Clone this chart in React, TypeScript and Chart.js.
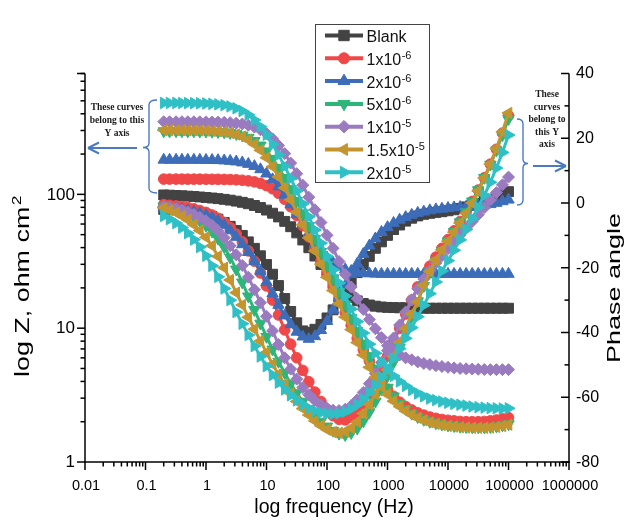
import React, { useEffect, useRef } from "react";
import { Chart, registerables } from "chart.js";

Chart.register(...registerables);

// Frequencies (Hz), 10 points per decade from 0.2 Hz to 100 kHz
const freq = [0.2, 0.25, 0.32, 0.4, 0.5, 0.63, 0.79,
  1, 1.26, 1.58, 2, 2.51, 3.16, 3.98, 5.01, 6.31, 7.94,
  10, 12.6, 15.8, 20, 25.1, 31.6, 39.8, 50.1, 63.1, 79.4,
  100, 126, 158, 200, 251, 316, 398, 501, 631, 794,
  1000, 1259, 1585, 1995, 2512, 3162, 3981, 5012, 6310, 7943,
  10000, 12589, 15849, 19953, 25119, 31623, 39811, 50119, 63096, 79433,
  100000];

// |Z| (ohm cm2), left axis
const zBlank = [99.0, 98.6, 98.1, 97.6, 97.0, 96.4, 95.6,
  94.8, 93.9, 92.9, 91.8, 90.5, 89.0, 87.2, 85.1, 82.6, 79.7,
  76.3, 72.3, 67.8, 62.8, 57.3, 51.5, 45.6, 39.9, 34.6, 29.9,
  26.0, 22.8, 20.3, 18.4, 17.0, 16.0, 15.3, 14.9, 14.6, 14.4,
  14.3, 14.25, 14.2, 14.2, 14.15, 14.15, 14.1, 14.1, 14.1, 14.1,
  14.1, 14.1, 14.1, 14.1, 14.1, 14.1, 14.1, 14.1, 14.1, 14.1,
  14.1];
const z1e6 = [130.0, 130.0, 130.0, 130.0, 129.9, 129.9, 129.9,
  129.8, 129.7, 129.6, 129.3, 129.0, 128.4, 127.5, 126.1, 124.0, 120.8,
  116.2, 110.0, 101.8, 91.9, 80.8, 69.4, 58.3, 48.1, 39.2, 31.7,
  25.5, 20.4, 16.4, 13.1, 10.5, 8.4, 6.9, 5.7, 4.7, 4.0,
  3.5, 3.1, 2.8, 2.6, 2.45, 2.33, 2.24, 2.17, 2.12, 2.08,
  2.05, 2.03, 2.01, 2.0, 2.0, 2.0, 2.01, 2.03, 2.06, 2.1,
  2.15];
const z2e6 = [181.0, 181.0, 181.0, 180.9, 180.9, 180.8, 180.7,
  180.4, 180.2, 179.7, 178.8, 177.5, 175.6, 172.7, 168.5, 162.2, 153.7,
  142.6, 129.2, 114.3, 98.9, 84.1, 70.8, 59.6, 50.4, 43.1, 37.6,
  33.6, 30.7, 28.8, 27.5, 26.7, 26.1, 25.8, 25.6, 25.5, 25.4,
  25.4, 25.4, 25.4, 25.4, 25.4, 25.4, 25.4, 25.4, 25.4, 25.4,
  25.4, 25.4, 25.4, 25.4, 25.4, 25.4, 25.4, 25.4, 25.4, 25.4,
  25.4];
const z5e6 = [296.9, 296.8, 296.7, 296.6, 296.4, 296.3, 295.9,
  295.3, 294.5, 293.2, 291.1, 288.0, 283.0, 275.8, 265.4, 251.1, 232.4,
  209.9, 184.7, 158.4, 133.1, 109.8, 89.5, 72.3, 58.1, 46.5, 37.2,
  29.6, 23.6, 18.7, 15.0, 11.9, 9.55, 7.7, 6.2, 5.0, 4.2,
  3.6, 3.1, 2.75, 2.5, 2.3, 2.17, 2.07, 2.0, 1.95, 1.91,
  1.88, 1.86, 1.84, 1.83, 1.82, 1.82, 1.82, 1.83, 1.85, 1.88,
  1.92];
const z1e5 = [348.9, 348.9, 348.9, 348.8, 348.7, 348.5, 348.3,
  348.0, 347.5, 346.6, 345.3, 343.3, 340.2, 335.5, 328.3, 318.0, 303.5,
  284.1, 260.0, 231.9, 201.6, 171.3, 142.8, 117.2, 95.2, 76.7, 61.6,
  49.4, 39.5, 31.5, 25.2, 20.3, 16.6, 13.8, 11.6, 9.9, 8.5,
  7.4, 6.8, 6.3, 6.0, 5.8, 5.6, 5.45, 5.35, 5.25, 5.17,
  5.1, 5.05, 5.0, 4.97, 4.95, 4.93, 4.91, 4.9, 4.9, 4.9,
  4.9];
const z15e5 = [301.8, 301.7, 301.6, 301.5, 301.3, 301.0, 300.4,
  299.5, 298.2, 296.1, 292.8, 287.8, 280.5, 269.9, 255.4, 236.4, 213.5,
  187.8, 161.1, 135.3, 111.7, 91.1, 73.6, 59.1, 47.3, 37.8, 30.1,
  24.0, 19.1, 15.2, 12.1, 9.75, 7.8, 6.3, 5.1, 4.3, 3.65,
  3.2, 2.85, 2.6, 2.4, 2.25, 2.14, 2.05, 1.98, 1.93, 1.89,
  1.86, 1.84, 1.82, 1.81, 1.8, 1.8, 1.8, 1.81, 1.83, 1.86,
  1.9];
const z2e5 = [482.2, 482.1, 482.0, 481.7, 481.2, 480.5, 479.4,
  477.6, 474.8, 470.5, 464.0, 454.2, 439.8, 419.6, 392.9, 359.5, 320.6,
  278.8, 236.8, 197.3, 162.0, 131.5, 106.0, 85.0, 68.0, 54.2, 43.2,
  34.4, 27.3, 21.8, 17.4, 13.9, 11.2, 9.2, 7.6, 6.5, 5.6,
  4.9, 4.4, 4.0, 3.7, 3.45, 3.25, 3.1, 2.98, 2.9, 2.83,
  2.77, 2.72, 2.68, 2.64, 2.6, 2.57, 2.55, 2.53, 2.52, 2.51,
  2.52];

// Phase angle (degrees), right axis
const phBlank = [-2.0, -2.0, -2.1, -2.2, -2.4, -2.6, -3.0,
  -3.5, -4.2, -5.0, -6.0, -7.2, -8.5, -10.0, -12.0, -14.0, -16.3,
  -19.0, -22.0, -25.5, -29.5, -33.5, -37.0, -39.5, -40.0, -39.0, -37.5,
  -35.5, -33.0, -30.0, -27.0, -24.5, -21.5, -19.0, -16.5, -14.0, -12.0,
  -10.0, -8.2, -6.8, -5.6, -4.7, -4.0, -3.5, -3.2, -2.9, -2.7,
  -2.4, -2.1, -1.7, -1.2, -0.7, -0.1, 0.5, 1.2, 2.0, 2.8,
  3.5];
const ph1e6 = [-0.5, -0.7, -0.9, -1.1, -1.4, -1.8, -2.3,
  -2.9, -3.7, -4.7, -6.0, -7.6, -9.6, -12.0, -14.8, -18.0, -21.6,
  -25.6, -30.0, -34.6, -39.2, -43.6, -47.8, -51.7, -55.2, -58.4, -61.3,
  -63.8, -65.7, -66.8, -67.0, -66.2, -64.5, -62.0, -58.9, -55.3, -51.4,
  -47.3, -43.0, -38.7, -34.3, -30.0, -25.9, -22.5, -19.5, -16.7, -14.0,
  -11.3, -8.6, -5.7, -2.7, 0.5, 4.0, 7.8, 12.0, 16.6, 21.6,
  27.0];
const ph2e6 = [-1.5, -1.6, -1.8, -2.0, -2.3, -2.7, -3.2,
  -3.8, -4.5, -5.5, -6.8, -8.5, -10.5, -12.8, -15.2, -18.0, -21.0,
  -24.5, -28.0, -31.5, -34.8, -37.5, -39.8, -41.3, -42.0, -41.2, -39.3,
  -36.5, -33.0, -29.3, -25.5, -22.0, -18.8, -15.8, -13.2, -11.0, -9.0,
  -7.5, -6.2, -5.2, -4.4, -3.7, -3.1, -2.7, -2.3, -2.0, -1.8,
  -1.6, -1.4, -1.3, -1.2, -1.1, -0.9, -0.7, -0.4, 0.0, 0.5,
  1.0];
const ph5e6 = [-1.0, -1.4, -1.9, -2.5, -3.3, -4.3, -5.5,
  -7.0, -8.8, -11.0, -13.6, -16.8, -20.5, -24.5, -28.8, -33.0, -37.2,
  -41.3, -45.2, -49.0, -52.5, -55.8, -58.7, -61.3, -63.6, -65.7, -67.5,
  -69.0, -70.3, -71.2, -71.6, -71.0, -69.6, -67.4, -64.6, -61.3, -57.6,
  -53.5, -49.2, -44.7, -40.0, -35.2, -30.3, -25.6, -21.4, -17.8, -14.7,
  -11.8, -8.9, -5.9, -2.8, 0.5, 4.0, 7.8, 11.9, 16.3, 21.0,
  26.0];
const ph1e5 = [-1.0, -1.3, -1.7, -2.2, -2.8, -3.5, -4.4,
  -5.5, -6.9, -8.6, -10.7, -13.2, -16.0, -19.3, -22.9, -26.8, -30.8,
  -35.0, -39.5, -43.7, -47.8, -51.3, -54.4, -57.0, -59.2, -61.0, -62.4,
  -63.4, -64.0, -64.1, -63.7, -62.6, -60.8, -58.5, -55.8, -52.7, -49.3,
  -45.6, -41.7, -37.7, -33.7, -29.9, -26.5, -23.5, -20.9, -18.5, -16.3,
  -14.1, -12.0, -9.9, -7.8, -5.7, -3.6, -1.4, 0.9, 3.2, 5.6,
  8.0];
const ph15e5 = [-1.5, -2.2, -3.0, -4.0, -5.2, -6.7, -8.5,
  -10.6, -13.2, -16.5, -20.0, -23.8, -27.7, -31.5, -35.3, -39.0, -42.6,
  -46.2, -49.8, -53.0, -56.0, -58.8, -61.3, -63.5, -65.5, -67.3, -68.8,
  -70.0, -70.8, -71.0, -70.6, -69.5, -67.6, -65.0, -62.2, -59.0, -55.4,
  -51.5, -47.4, -43.1, -38.7, -34.2, -30.5, -25.5, -21.2, -17.6, -14.5,
  -11.8, -9.0, -6.2, -3.2, 0.0, 3.7, 7.7, 12.0, 16.8, 22.0,
  27.8];
const ph2e5 = [-4.0, -5.0, -6.2, -7.6, -9.3, -11.3, -13.6,
  -16.3, -19.4, -22.8, -26.4, -30.0, -33.7, -37.3, -40.8, -44.2, -47.4,
  -50.4, -53.1, -55.5, -57.6, -59.4, -61.0, -62.3, -63.4, -64.2, -64.8,
  -65.1, -65.2, -65.0, -64.5, -63.6, -62.3, -60.6, -58.6, -56.3, -53.8,
  -51.0, -48.1, -45.0, -41.8, -38.5, -35.1, -31.6, -28.0, -24.4, -21.0,
  -17.8, -14.6, -11.4, -8.2, -4.8, -1.3, 2.4, 6.4, 10.8, 15.6,
  21.0];

const seriesBase = ["Blank", "1x10", "2x10", "5x10", "1x10", "1.5x10", "2x10"];
const seriesExp = ["", "-6", "-6", "-6", "-5", "-5", "-5"];
const seriesZ = [zBlank, z1e6, z2e6, z5e6, z1e5, z15e5, z2e5];
const seriesPh = [phBlank, ph1e6, ph2e6, ph5e6, ph1e5, ph15e5, ph2e5];
const seriesColors = ["#434343", "#F04848", "#3D6DB9", "#2DB57A", "#9A7BBF", "#C4952F", "#2FC0C6"];
const markerStyles = ["rect", "circle", "triangle", "triangle", "rectRot", "triangle", "triangle"];
const markerRotations = [0, 0, 0, 180, 0, 270, 90];
const markerRadii = [7, 5.3, 6.6, 6.6, 6, 6.6, 6.6];

const xTickValues = [0.01, 0.1, 1, 10, 100, 1000, 10000, 100000, 1000000];
const xTickLabels = ["0.01", "0.1", "1", "10", "100", "1000", "10000", "100000", "1000000"];
const leftTickValues = [1, 10, 100];
const leftTickLabels = ["1", "10", "100"];
const rightTickValues = [-80, -60, -40, -20, 0, 20, 40];
const rightTickLabels = ["-80", "-60", "-40", "-20", "0", "20", "40"];

const SANS = '"Liberation Sans", Arial, sans-serif';
const SERIF = '"Liberation Serif", "Times New Roman", serif';
const ANNOT_BLUE = "#4A7BC2";

function drawMarker(ctx: CanvasRenderingContext2D, style: string, rot: number, r: number, x: number, y: number, color: string) {
  ctx.save();
  ctx.fillStyle = color;
  ctx.strokeStyle = color;
  ctx.lineWidth = 1;
  ctx.beginPath();
  if (style === "circle") {
    ctx.arc(x, y, r, 0, Math.PI * 2);
  } else if (style === "rect") {
    const s = r * Math.SQRT1_2;
    ctx.rect(x - s, y - s, 2 * s, 2 * s);
  } else if (style === "rectRot") {
    ctx.moveTo(x - r, y);
    ctx.lineTo(x, y - r);
    ctx.lineTo(x + r, y);
    ctx.lineTo(x, y + r);
    ctx.closePath();
  } else {
    let a = (rot * Math.PI) / 180;
    for (let k = 0; k < 3; k++) {
      const px = x + Math.sin(a) * r;
      const py = y - Math.cos(a) * r;
      if (k === 0) ctx.moveTo(px, py);
      else ctx.lineTo(px, py);
      a += (2 * Math.PI) / 3;
    }
    ctx.closePath();
  }
  ctx.fill();
  ctx.stroke();
  ctx.restore();
}

function rotatedTitle(ctx: CanvasRenderingContext2D, text: string, sup: string, bx: number, cy: number, size: number, targetLen: number) {
  ctx.save();
  ctx.font = `${size}px ${SANS}`;
  const wm = ctx.measureText(text).width;
  const supSize = Math.round(size * 0.65);
  ctx.font = `${supSize}px ${SANS}`;
  const ws = sup ? ctx.measureText(sup).width : 0;
  const total = wm + ws;
  const sx = targetLen / total;
  ctx.translate(bx, cy);
  ctx.rotate(-Math.PI / 2);
  ctx.scale(sx, 1);
  ctx.fillStyle = "#000";
  ctx.textBaseline = "alphabetic";
  ctx.textAlign = "left";
  ctx.font = `${size}px ${SANS}`;
  ctx.fillText(text, -total / 2, 0);
  if (sup) {
    ctx.font = `${supSize}px ${SANS}`;
    ctx.fillText(sup, -total / 2 + wm + 1, -size * 0.42);
  }
  ctx.restore();
}

const decorPlugin = {
  id: "decor",
  afterDraw(chart: any) {
    const ctx: CanvasRenderingContext2D = chart.ctx;
    const a = chart.chartArea;
    const sx = chart.scales.x;
    const sy = chart.scales.y;
    const sy1 = chart.scales.y1;
    const seg = (x1: number, y1: number, x2: number, y2: number) => {
      ctx.beginPath();
      ctx.moveTo(x1, y1);
      ctx.lineTo(x2, y2);
      ctx.stroke();
    };
    ctx.save();
    ctx.strokeStyle = "#000";
    ctx.lineWidth = 1.5;
    // axis lines
    seg(a.left, a.top, a.left, a.bottom + 0.75);
    seg(a.right, a.top, a.right, a.bottom + 0.75);
    seg(a.left - 0.75, a.bottom, a.right + 0.75, a.bottom);

    ctx.fillStyle = "#000";
    // x ticks
    for (let e = -2; e <= 5; e++) {
      for (let m = 2; m <= 9; m++) {
        const px = sx.getPixelForValue(m * Math.pow(10, e));
        seg(px, a.bottom, px, a.bottom + 4.5);
      }
    }
    ctx.font = `14.5px ${SANS}`;
    ctx.textAlign = "center";
    ctx.textBaseline = "middle";
    xTickValues.forEach((v, i) => {
      const px = sx.getPixelForValue(v);
      seg(px, a.bottom, px, a.bottom + 8);
      ctx.fillText(xTickLabels[i], px + 1, a.bottom + 24);
    });

    // left ticks
    for (let e = 0; e <= 2; e++) {
      for (let m = 2; m <= 9; m++) {
        const v = m * Math.pow(10, e);
        if (v > 800) continue;
        const py = sy.getPixelForValue(v);
        seg(a.left - 4.5, py, a.left, py);
      }
    }
    seg(a.left - 8, a.top, a.left, a.top);
    ctx.font = `17px ${SANS}`;
    ctx.textAlign = "right";
    leftTickValues.forEach((v, i) => {
      const py = sy.getPixelForValue(v);
      seg(a.left - 8, py, a.left, py);
      ctx.fillText(leftTickLabels[i], a.left - 10, py + 0.5);
    });

    // right ticks (inward)
    for (let v = -70; v <= 30; v += 20) {
      const py = sy1.getPixelForValue(v);
      seg(a.right - 4.5, py, a.right, py);
    }
    ctx.font = `16px ${SANS}`;
    ctx.textAlign = "left";
    rightTickValues.forEach((v, i) => {
      const py = sy1.getPixelForValue(v);
      seg(a.right - 8, py, a.right, py);
      ctx.fillText(rightTickLabels[i], a.right + 7, py + 0.5);
    });

    // titles
    ctx.font = `19.5px ${SANS}`;
    ctx.textAlign = "center";
    ctx.textBaseline = "alphabetic";
    ctx.fillText("log frequency (Hz)", 334, 513);
    rotatedTitle(ctx, "log Z, ohm cm", "2", 29, 287, 20, 180);
    rotatedTitle(ctx, "Phase angle", "", 620, 288, 19, 150);

    // legend
    const lx = 315.5, ly = 24.5, lw = 114, lh = 158;
    ctx.fillStyle = "#fff";
    ctx.fillRect(lx, ly, lw, lh);
    ctx.strokeStyle = "#444";
    ctx.lineWidth = 1;
    ctx.strokeRect(lx, ly, lw, lh);
    seriesBase.forEach((base, i) => {
      const ry = 35.5 + i * 22.8;
      const col = seriesColors[i];
      ctx.strokeStyle = col;
      ctx.lineWidth = 4;
      seg(325, ry, 363, ry);
      drawMarker(ctx, markerStyles[i], markerRotations[i], markerRadii[i] * 1.05, 344, ry, col);
      ctx.fillStyle = "#111";
      ctx.textAlign = "left";
      ctx.textBaseline = "alphabetic";
      ctx.font = `16px ${SANS}`;
      ctx.fillText(base, 366.5, ry + 6.5);
      if (seriesExp[i]) {
        const w = ctx.measureText(base).width;
        ctx.font = `11px ${SANS}`;
        ctx.fillText(seriesExp[i], 366.5 + w + 0.5, ry + 0.5);
      }
    });

    // annotations
    ctx.fillStyle = "#1a1a1a";
    ctx.font = `bold 9.5px ${SERIF}`;
    ctx.textAlign = "center";
    ctx.textBaseline = "middle";
    ["These curves", "belong to this", "Y axis"].forEach((t, i) => ctx.fillText(t, 117, 108 + i * 12.7));
    ["These", "curves", "belong to", "this Y", "axis"].forEach((t, i) => ctx.fillText(t, 547, 95 + i * 12.5));

    ctx.strokeStyle = ANNOT_BLUE;
    ctx.lineWidth = 1.4;
    // left brace
    ctx.beginPath();
    ctx.moveTo(157, 100);
    ctx.quadraticCurveTo(149, 100, 149, 105);
    ctx.lineTo(149, 143);
    ctx.quadraticCurveTo(149, 147.5, 143, 147.5);
    ctx.quadraticCurveTo(149, 147.5, 149, 152);
    ctx.lineTo(149, 188);
    ctx.quadraticCurveTo(149, 193, 157, 193);
    ctx.stroke();
    // right brace
    ctx.beginPath();
    ctx.moveTo(517, 119);
    ctx.quadraticCurveTo(523, 119, 523, 124);
    ctx.lineTo(523, 159);
    ctx.quadraticCurveTo(523, 163.5, 528, 163.5);
    ctx.quadraticCurveTo(523, 163.5, 523, 168);
    ctx.lineTo(523, 200);
    ctx.quadraticCurveTo(523, 205, 517, 205);
    ctx.stroke();
    // arrows
    ctx.lineWidth = 2;
    seg(137, 148, 88, 148);
    seg(88, 148, 99, 142.5);
    seg(88, 148, 99, 153.5);
    seg(533, 166, 566, 166);
    seg(566, 166, 555, 160.5);
    seg(566, 166, 555, 171.5);
    ctx.restore();
  },
};

export default function App() {
  const ref = useRef<HTMLCanvasElement>(null);
  useEffect(() => {
    const canvas = ref.current;
    if (!canvas) return;
    const datasets: any[] = [];
    const mk = (ys: number[]) => freq.map((f, i) => ({ x: f, y: ys[i] }));
    seriesBase.forEach((b, i) => {
      const common = {
        showLine: true,
        borderColor: seriesColors[i],
        backgroundColor: seriesColors[i],
        pointBackgroundColor: seriesColors[i],
        pointBorderColor: seriesColors[i],
        borderWidth: 3,
        pointBorderWidth: 1,
        pointStyle: markerStyles[i],
        pointRotation: markerRotations[i],
        pointRadius: markerRadii[i],
        pointHoverRadius: markerRadii[i],
        tension: 0,
      };
      datasets.push({ ...common, label: b + seriesExp[i] + " |Z|", data: mk(seriesZ[i]), yAxisID: "y", order: 100 - 2 * i });
      datasets.push({ ...common, label: b + seriesExp[i] + " phase", data: mk(seriesPh[i]), yAxisID: "y1", order: 99 - 2 * i });
    });
    const chart = new Chart(canvas, {
      type: "scatter",
      data: { datasets },
      options: {
        responsive: false,
        animation: false,
        devicePixelRatio: 1,
        events: [],
        layout: { padding: { left: 85, right: 56, top: 73.5, bottom: 65 } },
        plugins: { legend: { display: false }, tooltip: { enabled: false } },
        scales: {
          x: { type: "logarithmic", min: 0.01, max: 1000000, display: false },
          y: { type: "logarithmic", position: "left", min: 1, max: 800, display: false },
          y1: { type: "linear", position: "right", min: -80, max: 40, display: false },
        },
      } as any,
      plugins: [decorPlugin],
    });
    return () => chart.destroy();
  }, []);
  return (
    <div style={{ position: "absolute", left: 0, top: 0, width: 625, height: 527, background: "#fff" }}>
      <canvas ref={ref} width={625} height={527} style={{ display: "block", width: 625, height: 527 }} />
    </div>
  );
}
